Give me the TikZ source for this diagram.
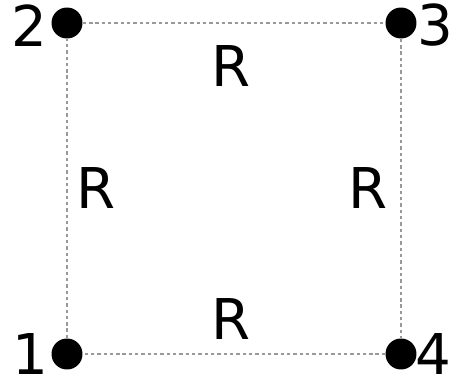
\documentclass[tikz,border=0pt]{standalone}
\usepackage{fontspec}
\setmainfont{DejaVu Sans}
\usepackage{tikz}
\usetikzlibrary{positioning}

\begin{document}
\begin{tikzpicture}[
  x=0.02cm, y=-0.02cm,
  vertex/.style={circle, fill=black, inner sep=0pt, minimum size=0.62cm},
  lbl/.style={font=\fontsize{32}{36}\selectfont, inner sep=0pt},
  edge/.style={gray!80, line width=0.9pt, dash pattern=on 1.9pt off 1.7pt}
]
\useasboundingbox (0,0) rectangle (457,385);

% corners
\node[vertex] (p1) at (67,354) {};
\node[vertex] (p2) at (67,23) {};
\node[vertex] (p3) at (401,23) {};
\node[vertex] (p4) at (401,354) {};

\node[lbl] (l1) at (30,354) {1};
\node[lbl] (l2) at (29,26) {2};
\node[lbl] (l3) at (435,25) {3};
\node[lbl] (l4) at (433,354) {4};

% sides
\draw[edge] (p1) -- (p2);
\draw[edge] (p2) -- (p3);
\draw[edge] (p3) -- (p4);
\draw[edge] (p4) -- (p1);

\node[lbl] (rtop) at (231,66) {R};
\node[lbl] (rleft) at (96,188) {R};
\node[lbl] (rright) at (368,188) {R};
\node[lbl] (rbot) at (231,319) {R};

\end{tikzpicture}
\end{document}
